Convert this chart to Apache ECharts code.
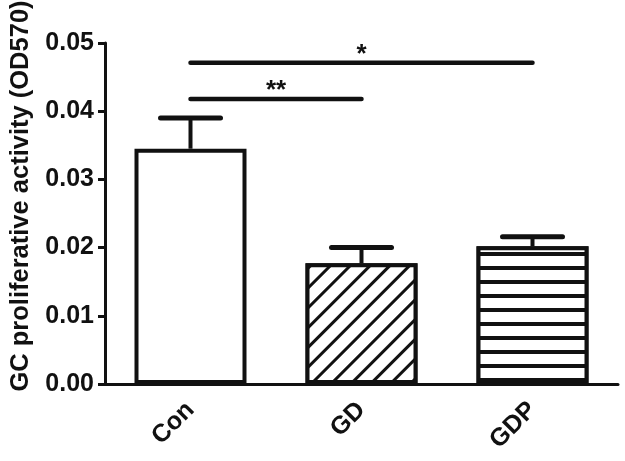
<!DOCTYPE html>
<html>
<head>
<meta charset="utf-8">
<script src="https://cdn.jsdelivr.net/npm/echarts@6/dist/echarts.min.js"></script>
<style>
    html, body { margin: 0; padding: 0; background: #fff; }
    #main { width: 625px; height: 461px; }
</style>
</head>
<body>
<div id="main"></div>
<script>
// data
var categories = ['Con', 'GD', 'GDP'];
var means = [0.0345, 0.0177, 0.0202];
var errors = [0.0045, 0.0023, 0.0014];
var yTicks = [0, 0.01, 0.02, 0.03, 0.04, 0.05];
// significance brackets: from category, to category, height, mark
var sigFrom = [0, 0];
var sigTo = [1, 2];
var sigLevel = [0.0418, 0.0471];
var sigMark = ['**', '*'];

var ink = '#111';
var font = 'Liberation Sans, Arial, sans-serif';

var chartDom = document.getElementById('main');
var myChart = echarts.init(chartDom);

var decals = [
    null,
    { symbol: 'rect', symbolSize: 1, dashArrayX: [1, 0], dashArrayY: [2.5, 10.5], rotation: -Math.PI / 4, color: ink, backgroundColor: '#fff' },
    { symbol: 'rect', symbolSize: 1, dashArrayX: [1, 0], dashArrayY: [3.5, 10], rotation: 0, color: ink, backgroundColor: '#fff' }
];

var barData = means.map(function (v, i) {
    var item = { value: v, itemStyle: {} };
    if (decals[i]) item.itemStyle.decal = decals[i];
    return item;
});

var errData = means.map(function (v, i) {
    return [i, v, v + errors[i]];
});

var sigData = sigLevel.map(function (v, i) {
    return [sigFrom[i], sigTo[i], v, sigMark[i]];
});

var option = {
    backgroundColor: '#fff',
    animation: false,
    grid: { left: 105, right: 7, top: 43, bottom: 77 },
    graphic: [{
        type: 'text',
        x: 21,
        y: 196,
        rotation: Math.PI / 2,
        style: {
            text: 'GC proliferative activity (OD570)',
            font: 'bold 25.5px ' + font,
            fill: ink,
            align: 'center',
            verticalAlign: 'middle'
        }
    }],
    xAxis: {
        type: 'category',
        data: categories,
        axisLine: { lineStyle: { color: ink, width: 3 } },
        axisTick: { alignWithLabel: true, length: 8, lineStyle: { color: ink, width: 3 } },
        axisLabel: { rotate: 45, margin: 22, color: ink, fontSize: 25, fontWeight: 'bold', fontFamily: font }
    },
    yAxis: {
        type: 'value',
        min: 0,
        max: 0.05,
        interval: 0.01,
        splitLine: { show: false },
        axisLine: { show: true, lineStyle: { color: ink, width: 3 } },
        axisTick: { show: true, length: 7, lineStyle: { color: ink, width: 3 } },
        axisLabel: {
            margin: 11, color: ink, fontSize: 25, fontWeight: 'bold', fontFamily: font,
            formatter: function (v) { return v.toFixed(2); }
        }
    },
    series: [
        {
            type: 'bar',
            data: barData,
            barWidth: 112,
            itemStyle: { color: '#fff', borderColor: ink, borderWidth: 4 },
            z: 2
        },
        {
            type: 'custom',
            data: errData,
            z: 3,
            renderItem: function (params, api) {
                var base = api.coord([api.value(0), api.value(1)]);
                var top = api.coord([api.value(0), api.value(2)]);
                var half = 30;
                return {
                    type: 'group',
                    children: [
                        { type: 'line', shape: { x1: base[0], y1: base[1], x2: top[0], y2: top[1] }, style: { stroke: ink, lineWidth: 4 } },
                        { type: 'line', shape: { x1: top[0] - half, y1: top[1], x2: top[0] + half, y2: top[1] }, style: { stroke: ink, lineWidth: 5, lineCap: 'round' } }
                    ]
                };
            }
        },
        {
            type: 'custom',
            data: sigData,
            z: 3,
            renderItem: function (params, api) {
                var a = api.coord([api.value(0), api.value(2)]);
                var b = api.coord([api.value(1), api.value(2)]);
                return {
                    type: 'group',
                    children: [
                        { type: 'line', shape: { x1: a[0], y1: a[1], x2: b[0], y2: b[1] }, style: { stroke: ink, lineWidth: 4.5, lineCap: 'round' } },
                        { type: 'text', x: (a[0] + b[0]) / 2, y: a[1] - 8, style: { text: sigData[params.dataIndex][3], font: 'bold 26px ' + font, fill: ink, align: 'center', verticalAlign: 'middle' } }
                    ]
                };
            }
        }
    ]
};

option && myChart.setOption(option);
</script>
</body>
</html>
